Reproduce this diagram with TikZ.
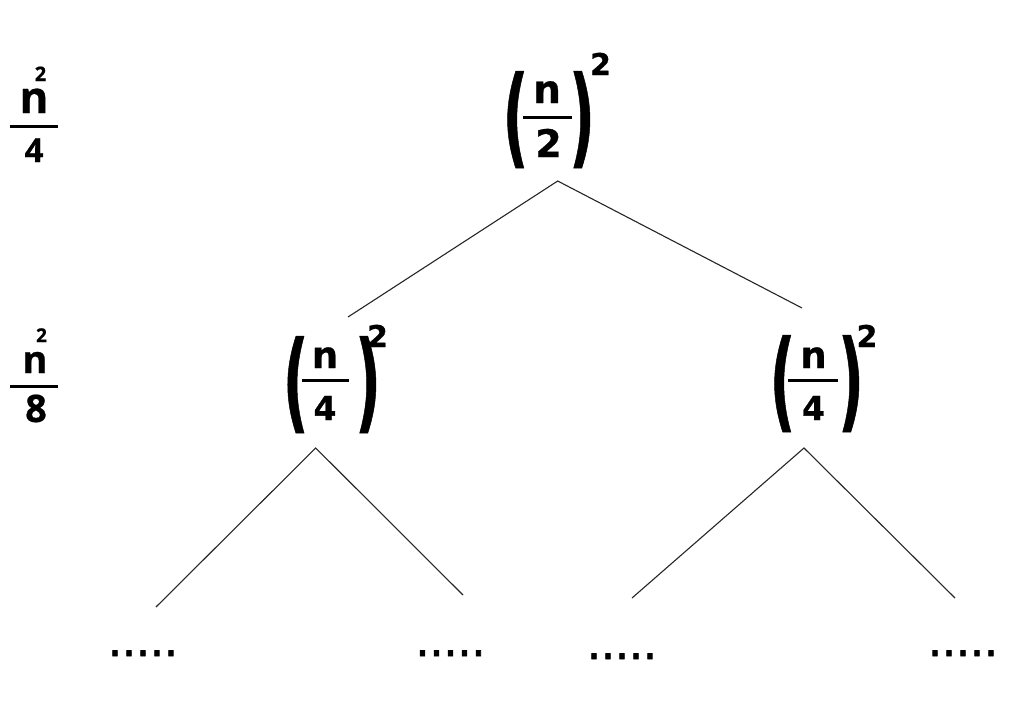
\documentclass[tikz,border=0pt]{standalone}
\usepackage{fontspec}
\setmainfont{DejaVu Sans}[BoldFeatures={FakeBold=0.8}]
\newfontfamily\labfont{Open Sans}[BoldFeatures={FakeBold=0.6}]
\newfontfamily\dotfont{DejaVu Sans}[FakeBold=1.6]
\newcommand{\fs}[1]{\fontsize{#1}{#1}\selectfont}
\newcommand{\bigparen}[1]{\scalebox{0.8}[1.55]{\fs{70}\bfseries #1}}
\tikzset{
  txt/.style={inner sep=0pt, outer sep=0pt, anchor=base, text depth=0pt},
  nm/.style={txt, font=\bfseries\fs{39}, text height=0.56em},
  dn/.style={txt, font=\bfseries\fs{33}, text height=0.73em},
  sup/.style={txt, font=\bfseries\fs{30}, text height=0.73em},
  par/.style={txt},
  lab/.style={txt, font=\labfont\bfseries\fs{#1}, text height=0.72em},
  labn/.style={txt, font=\labfont\bfseries\fs{#1}, text height=0.54em},
  bar/.style={line width=3pt},
  edge/.style={line width=1.1pt, black!85},
  dots/.style={txt, font=\dotfont\fs{44}, text height=0.13em},
}
\begin{document}
\begin{tikzpicture}[x=1pt, y=-1pt]
\useasboundingbox[fill=white] (0,0) rectangle (1024,702);

% left level labels
\node[lab=20] (l1s) at (40.5,81) {2};
\node[labn=44] (l1n) at (34,113) {n};
\draw[bar] (10,126) -- (58,126);
\node[lab=33] (l1d) at (34,162) {4};

\node[lab=19] (l2s) at (41.5,342) {2};
\node[labn=38] (l2n) at (35,373) {n};
\draw[bar] (10,386) -- (58,386);
\node[lab=38] (l2d) at (36,422) {8};

% top node (n/2)^2
\node[par] (tL) at (515.5,153.7) {\bigparen{(}};
\node[nm] (tn) at (547,103) {n};
\draw[bar] (523,117) -- (572,117);
\node[dn, font=\bfseries\fs{38}] (td) at (548.5,157) {2};
\node[par] (tR) at (582,153.7) {\bigparen{)}};
\node[sup] (ts) at (600.5,75) {2};

% middle left (n/4)^2
\node[par] (aL) at (295.7,418.7) {\bigparen{(}};
\node[nm,font=\bfseries\fs{37}] (an) at (325,368) {n};
\draw[bar] (302,380) -- (349,380);
\node[dn] (ad) at (325,420) {4};
\node[par] (aR) at (368,418.7) {\bigparen{)}};
\node[sup] (as) at (377.5,347) {2};

% middle right (n/4)^2
\node[par] (bL) at (782.5,417.7) {\bigparen{(}};
\node[nm,font=\bfseries\fs{37}] (bn) at (813.5,368) {n};
\draw[bar] (788,380) -- (838,380);
\node[dn] (bd) at (813.5,420) {4};
\node[par] (bR) at (851,417.7) {\bigparen{)}};
\node[sup] (bs) at (867,347) {2};

% connector points
\coordinate (tA) at (557.7,181);
\coordinate (aT) at (348,317);
\coordinate (bT) at (802,308);
\coordinate (aA) at (315.7,448);
\coordinate (bA) at (804,448);
\coordinate (c1) at (156,607);
\coordinate (c2) at (463,595);
\coordinate (c3) at (632,598);
\coordinate (c4) at (955,598);

\draw[edge] (aT) -- (tA) -- (bT);
\draw[edge] (c1) -- (aA) -- (c2);
\draw[edge] (c3) -- (bA) -- (c4);

% leaves
\node[dots] (d1) at (143,656) {.....};
\node[dots] (d2) at (450.5,656) {.....};
\node[dots] (d3) at (622,659) {.....};
\node[dots] (d4) at (963,656) {.....};
\end{tikzpicture}
\end{document}
